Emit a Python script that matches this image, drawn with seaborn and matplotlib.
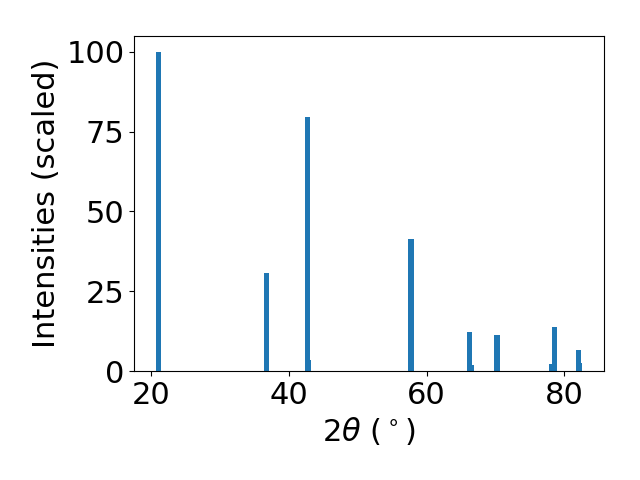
import matplotlib
matplotlib.use("Agg")
import matplotlib.pyplot as plt
import seaborn as sns

# Peak positions (2theta, degrees) and scaled intensities
two_theta = [21.05, 36.70, 42.71, 42.90, 57.73, 66.17, 66.50, 70.20, 78.10, 78.55, 82.04, 82.20]
intensity = [100.0, 30.6, 79.5, 3.4, 41.4, 12.2, 1.9, 11.3, 2.2, 13.8, 6.6, 2.5]

sns.set_style("ticks", rc={"axes.edgecolor": "black", "xtick.color": "black",
                           "ytick.color": "black", "axes.labelcolor": "black"})
plt.rcParams['font.family'] = ['DejaVu Sans']
plt.rcParams['mathtext.fontset'] = 'dejavusans'

color = sns.color_palette("tab10")[0]

fig, ax = plt.subplots(figsize=(6.4, 4.8), dpi=100)
ax.bar(two_theta, intensity, width=0.75, color=color, linewidth=0)

ax.set_xlabel(r"$2\theta$ ($^\circ$)", fontsize=22)
ax.set_ylabel("Intensities (scaled)", fontsize=22)
ax.tick_params(labelsize=22)
ax.set_xticks([20, 40, 60, 80])
ax.set_yticks([0, 25, 50, 75, 100])

fig.subplots_adjust(left=0.21, right=0.943, bottom=0.227, top=0.925)
fig.savefig("out.png", dpi=100)
